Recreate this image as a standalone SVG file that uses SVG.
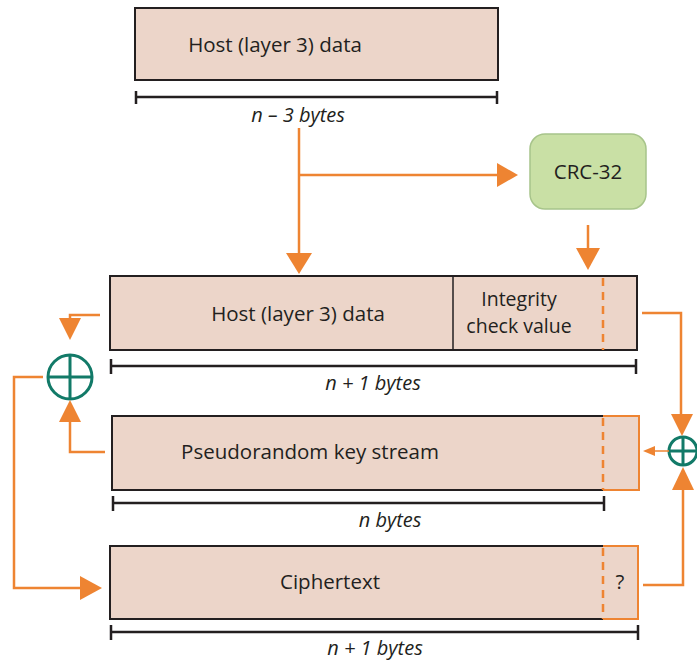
<svg xmlns="http://www.w3.org/2000/svg" width="697" height="660" viewBox="0 0 697 660">
<defs>
<style>
.box{fill:#ecd5c9;stroke:#231f20;stroke-width:2}
.obox{fill:none;stroke:#ee8432;stroke-width:2}
.dash{stroke:#ee8432;stroke-width:2.5;stroke-dasharray:8,6;fill:none}
.t{font-family:"Open Sans","Liberation Sans",sans-serif;font-size:20.5px;fill:#231f20;text-anchor:middle}
.it{font-family:"Open Sans","Liberation Sans",sans-serif;font-size:20px;font-style:italic;fill:#231f20;text-anchor:middle}
.dim{stroke:#231f20;stroke-width:2.5;fill:none}
.c{stroke:#ee8432;stroke-width:2.5;fill:none}
.ah{fill:#ee8432}
.xor{fill:#fff;stroke:#127a68;stroke-width:3}
.xp{stroke:#127a68;stroke-width:3}
</style>
</defs>
<rect width="697" height="660" fill="#fff"/>
<g id="host-top">
<rect class="box" x="135" y="8" width="363" height="72"/>
<text class="t" x="275" y="52">Host (layer 3) data</text>
<path class="dim" d="M135 97H498M136 91V104M497 91V104"/>
<text class="it" x="298" y="122">n – 3 bytes</text>
</g>
<g id="crc">
<rect x="530" y="134" width="116" height="75" rx="15" fill="#c9e0a5" stroke="#a7c48a" stroke-width="1.5"/>
<text class="t" x="588" y="179">CRC-32</text>
</g>
<g id="plain">
<rect class="box" x="110" y="276" width="527" height="74"/>
<line x1="453" y1="276" x2="453" y2="350" stroke="#231f20" stroke-width="1.5"/>
<line class="dash" x1="603" y1="278" x2="603" y2="350"/>
<text class="t" x="298" y="321">Host (layer 3) data</text>
<text class="t" x="519" y="306" style="font-size:19.5px">Integrity</text>
<text class="t" x="519" y="333" style="font-size:19.5px">check value</text>
<path class="dim" d="M110 366H637M111 359V374M636 359V374"/>
<text class="it" x="373" y="390">n + 1 bytes</text>
</g>
<g id="keystream">
<path d="M603 416H112V490H603" class="box"/>
<rect x="603" y="416" width="36" height="74" fill="#ecd5c9"/>
<path class="obox" d="M603 416H639V490H603"/>
<line class="dash" x1="603" y1="418" x2="603" y2="490"/>
<text class="t" x="310" y="459">Pseudorandom key stream</text>
<path class="dim" d="M112 503H605M113 496V511M604 496V511"/>
<text class="it" x="390" y="527">n bytes</text>
</g>
<g id="cipher">
<path d="M603 546H110V619H603" class="box"/>
<rect x="603" y="546" width="35" height="73" fill="#ecd5c9"/>
<path class="obox" d="M603 546H638V619H603"/>
<line class="dash" x1="603" y1="548" x2="603" y2="619"/>
<text class="t" x="330" y="589">Ciphertext</text>
<text class="t" x="620" y="589">?</text>
<path class="dim" d="M110 632H639M111 625V640M638 625V640"/>
<text class="it" x="375" y="655">n + 1 bytes</text>
</g>
<g id="xor-left">
<circle class="xor" cx="70" cy="377" r="22"/>
<path class="xp" d="M48 377H92M70 355V399"/>
</g>
<g id="xor-right">
<circle class="xor" cx="683" cy="451" r="14" stroke-width="2"/>
<path class="xp" d="M669 451H697M683 437V465" stroke-width="2"/>
</g>
<g id="connectors">
<path class="c" d="M299 128V256"/>
<polygon class="ah" points="286,253 312,253 299,274"/>
<path class="c" d="M299 175H500"/>
<polygon class="ah" points="497,163 497,187 518,175"/>
<path class="c" d="M588 225V250"/>
<polygon class="ah" points="576,248 600,248 588,270"/>
<path class="c" d="M100 315H70V322"/>
<polygon class="ah" points="59,318 81,318 70,340"/>
<path class="c" d="M105 452H70V420"/>
<polygon class="ah" points="59,422 81,422 70,400"/>
<path class="c" d="M43 377H14V588H82"/>
<polygon class="ah" points="80,576 80,600 102,588"/>
<path class="c" d="M642 313H681V416"/>
<polygon class="ah" points="671,414 693,414 682,436"/>
<path d="M669 451H652" stroke="#ee8432" stroke-width="1.5"/>
<polygon class="ah" points="655,446 655,456 643,451"/>
<path class="c" d="M643 585H683V488"/>
<polygon class="ah" points="672,490 694,490 683,467"/>
</g>
</svg>
